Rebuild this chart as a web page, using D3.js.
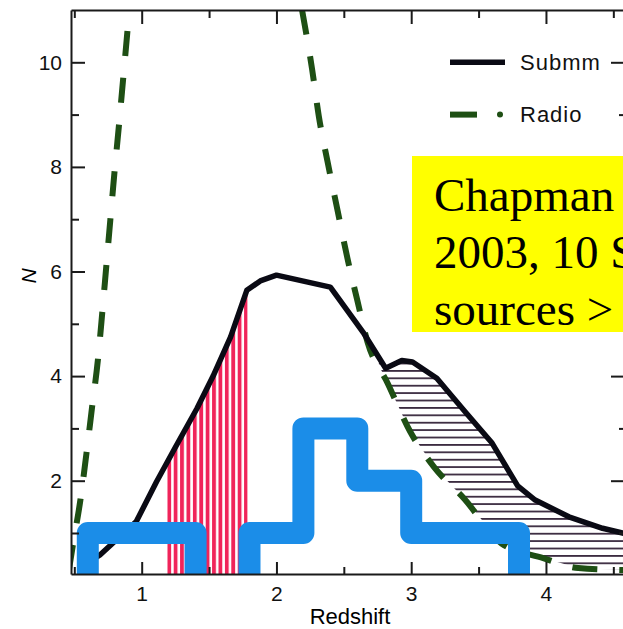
<!DOCTYPE html>
<html>
<head>
<meta charset="utf-8">
<script src="https://cdn.jsdelivr.net/npm/d3@7"></script>
<style>
  body { margin: 0; background: #fff; }
  svg { display: block; }
</style>
</head>
<body>
<svg id="chart" width="623" height="629"></svg>
<script>
// submm redshift distribution (black solid line)
const submmZ = [0.58, 0.69, 0.96, 1.11, 1.25, 1.41, 1.53, 1.66, 1.78, 1.88, 2.0, 2.4, 2.65, 2.81, 2.93, 3.01, 3.19, 3.4, 3.6, 3.79, 3.92, 4.17, 4.42, 4.6]
const submmN = [0.40, 0.58, 1.22, 1.98, 2.64, 3.38, 4.0, 4.75, 5.64, 5.82, 5.93, 5.70, 4.81, 4.15, 4.30, 4.27, 3.96, 3.32, 2.72, 1.90, 1.63, 1.31, 1.09, 0.98]
// radio curve, low-z branch and high-z branch (green dashed)
const radioLoZ = [0.46, 0.49, 0.545, 0.59, 0.632, 0.675, 0.707, 0.737, 0.767, 0.797, 0.830, 0.862, 0.893, 0.915]
const radioLoN = [0.30, 0.78, 1.63, 2.52, 3.41, 4.31, 5.20, 6.09, 6.98, 7.87, 8.76, 9.67, 10.56, 11.2]
const radioHiZ = [2.19, 2.265, 2.315, 2.38, 2.455, 2.527, 2.60, 2.676, 2.826, 2.99, 3.17, 3.395, 3.67, 3.98, 4.24, 4.6]
const radioHiN = [11.0, 9.86, 8.96, 8.09, 7.15, 6.25, 5.45, 4.65, 3.86, 2.95, 2.26, 1.65, 0.80, 0.52, 0.33, 0.29]
// Chapman et al. 2003 histogram (blue)
const binEdges = [0.6, 1.0, 1.4, 1.8, 2.2, 2.6, 3.0, 3.4, 3.8]
const binCounts = [1, 1, 0, 1, 3, 2, 1, 1]
// shaded bands
const redBand = [1.19, 1.785]
const hatchBand = [2.76, 4.6]
// ticks and texts
const xMajorTicks = [1, 2, 3, 4]
const xMinorTicks = [0.5, 1.5, 2.5, 3.5, 4.5]
const yMajorTicks = [2, 4, 6, 8, 10]
const yMinorTicks = [1, 3, 5, 7, 9]
const legendNames = ['Submm', 'Radio']
const noteLines = ['Chapman', '2003, 10 S', 'sources >']

const black = '#0a0a14'
const green = '#1e4f14'
const blue = '#1b8de8'
const sans = '"Liberation Sans", Arial, Helvetica, sans-serif'

let svg = d3.select('#chart')
let pLeft = 71, pRight = 626, pTop = 10, pBottom = 574

let x = d3.scaleLinear().domain([0.4754, 4.594]).range([pLeft, pRight])
let y = d3.scaleLinear().domain([0.216, 11.0]).range([pBottom, pTop])

let zip = (zs, ns) => zs.map((z, i) => [z, ns[i]])
let submm = zip(submmZ, submmN)
let radioLo = zip(radioLoZ, radioLoN)
let radioHi = zip(radioHiZ, radioHiN)

let defs = svg.append('defs')
defs.append('clipPath').attr('id', 'plot')
  .append('rect')
  .attr('x', pLeft).attr('y', pTop)
  .attr('width', pRight - pLeft).attr('height', pBottom - pTop)
defs.append('clipPath').attr('id', 'redclip')
  .append('rect')
  .attr('x', x(redBand[0])).attr('y', pTop)
  .attr('width', x(redBand[1]) - x(redBand[0])).attr('height', pBottom - pTop)
defs.append('clipPath').attr('id', 'hatchclip')
  .append('rect')
  .attr('x', x(hatchBand[0])).attr('y', pTop)
  .attr('width', x(hatchBand[1]) - x(hatchBand[0])).attr('height', pBottom - pTop)

let vp = defs.append('pattern').attr('id', 'vhatch')
  .attr('patternUnits', 'userSpaceOnUse').attr('width', 6.4).attr('height', 10)
  .attr('x', x(redBand[0]))
vp.append('rect').attr('width', 6.4).attr('height', 10).attr('fill', '#fff')
vp.append('rect').attr('width', 3.8).attr('height', 10).attr('fill', '#f0245a')

let hp = defs.append('pattern').attr('id', 'hhatch')
  .attr('patternUnits', 'userSpaceOnUse').attr('width', 10).attr('height', 7.4)
hp.append('rect').attr('width', 10).attr('height', 7.4).attr('fill', '#fff')
hp.append('rect').attr('width', 10).attr('height', 1.8).attr('fill', '#3b2b40')

let line = d3.line().x(d => x(d[0])).y(d => y(d[1]))
let plot = svg.append('g').attr('clip-path', 'url(#plot)')

// red vertical hatch under the submm curve
plot.append('g').attr('clip-path', 'url(#redclip)')
  .append('path')
  .attr('d', d3.area().x(d => x(d[0])).y0(y(0)).y1(d => y(d[1]))(submm))
  .attr('fill', 'url(#vhatch)')

// horizontal hatch between submm and radio curves
let hatchPoly = submm.filter(d => d[0] >= 2.4).concat(radioHi.filter(d => d[0] >= 2.4).reverse())
plot.append('g').attr('clip-path', 'url(#hatchclip)')
  .append('path')
  .attr('d', line(hatchPoly) + 'Z')
  .attr('fill', 'url(#hhatch)')

// radio curve
plot.selectAll('.radio')
  .data([radioLo, radioHi])
  .enter()
  .append('path')
  .classed('radio', true)
  .attr('d', d3.line().x(d => x(d[0])).y(d => y(d[1])).curve(d3.curveMonotoneX))
  .attr('fill', 'none')
  .attr('stroke', green)
  .attr('stroke-width', 6)
  .attr('stroke-dasharray', '25,22')

// submm curve
plot.append('path')
  .attr('d', line(submm))
  .attr('fill', 'none')
  .attr('stroke', black)
  .attr('stroke-width', 5.5)
  .attr('stroke-linejoin', 'round')

// histogram as a step outline
let steps = [[binEdges[0], 0]]
binCounts.forEach((c, i) => {
  steps.push([binEdges[i], c])
  steps.push([binEdges[i + 1], c])
})
steps.push([binEdges[binEdges.length - 1], 0])
plot.append('path')
  .attr('d', line(steps))
  .attr('fill', 'none')
  .attr('stroke', blue)
  .attr('stroke-width', 22)
  .attr('stroke-linejoin', 'round')

// axes, ticks point inward
let styleAxis = function (g) {
  g.selectAll('path, line').attr('stroke', '#1a1a1a').attr('stroke-width', 2)
  g.selectAll('text').attr('font-family', sans).attr('font-size', 21).attr('fill', '#111')
}
let addAxis = function (axis, tx, ty, keepDomain) {
  let g = svg.append('g').attr('transform', `translate(${tx}, ${ty})`).call(axis).call(styleAxis)
  if (!keepDomain) g.select('.domain').remove()
  return g
}
addAxis(d3.axisBottom(x).tickValues(xMajorTicks).tickSizeInner(-12).tickSizeOuter(0).tickPadding(12).tickFormat(d3.format('d')), 0, pBottom, true)
addAxis(d3.axisBottom(x).tickValues(xMinorTicks).tickSizeInner(-7).tickSizeOuter(0).tickFormat(''), 0, pBottom, false)
addAxis(d3.axisTop(x).tickValues(xMajorTicks).tickSizeInner(-14).tickSizeOuter(0).tickFormat(''), 0, pTop, true)
addAxis(d3.axisTop(x).tickValues(xMinorTicks).tickSizeInner(-8).tickSizeOuter(0).tickFormat(''), 0, pTop, false)
addAxis(d3.axisLeft(y).tickValues(yMajorTicks).tickSizeInner(-14).tickSizeOuter(0).tickPadding(9).tickFormat(d3.format('d')), pLeft, 0, true)
addAxis(d3.axisLeft(y).tickValues(yMinorTicks).tickSizeInner(-8).tickSizeOuter(0).tickFormat(''), pLeft, 0, false)
addAxis(d3.axisRight(y).tickValues(yMajorTicks).tickSizeInner(-15).tickSizeOuter(0).tickFormat(''), pRight, 0, true)
addAxis(d3.axisRight(y).tickValues(yMinorTicks).tickSizeInner(-7).tickSizeOuter(0).tickFormat(''), pRight, 0, false)

svg.append('text')
  .attr('x', 350).attr('y', 624)
  .attr('text-anchor', 'middle')
  .attr('font-family', sans).attr('font-size', 22)
  .text('Redshift')
svg.append('text')
  .attr('transform', 'translate(36, 276) rotate(-90)')
  .attr('text-anchor', 'middle')
  .attr('font-family', sans).attr('font-size', 21).attr('font-style', 'italic')
  .text('N')

// legend
let legend = svg.append('g').attr('transform', 'translate(450, 0)')
let rows = legend.selectAll('g')
  .data(legendNames)
  .enter()
  .append('g')
  .attr('transform', (d, i) => `translate(0, ${y(10 - i)})`)
rows.append('text')
  .attr('x', 70).attr('y', 7.5)
  .attr('font-family', sans).attr('font-size', 22).attr('letter-spacing', 1)
  .attr('fill', '#111')
  .text(d => d)
rows.filter((d, i) => i === 0).append('line')
  .attr('x1', 0).attr('x2', 55)
  .attr('stroke', black).attr('stroke-width', 5.5)
let radioRow = rows.filter((d, i) => i === 1)
radioRow.append('line')
  .attr('x1', 0).attr('x2', 27)
  .attr('stroke', green).attr('stroke-width', 6)
radioRow.append('circle')
  .attr('cx', 50).attr('r', 3)
  .attr('fill', green)

// yellow note box
svg.append('rect')
  .attr('x', 412).attr('y', 156)
  .attr('width', 230).attr('height', 176)
  .attr('fill', '#ffff00')
svg.append('g').selectAll('text')
  .data(noteLines)
  .enter()
  .append('text')
  .attr('x', 434)
  .attr('y', (d, i) => 211 + i * 57)
  .attr('font-family', '"Liberation Serif", "Times New Roman", serif')
  .attr('font-size', 47)
  .attr('fill', '#000')
  .text(d => d)
</script>
</body>
</html>
